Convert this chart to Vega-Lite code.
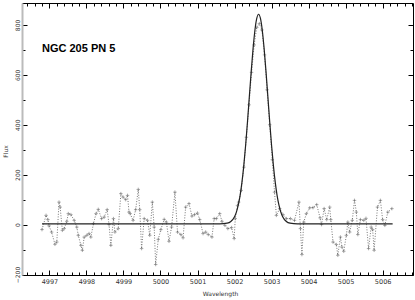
{
  "$schema": "https://vega.github.io/schema/vega-lite/v6.json",
  "width": 391,
  "height": 272,
  "autosize": "none",
  "padding": {"left": 22, "top": 3, "right": 2, "bottom": 25},
  "background": "white",
  "config": {"view": {"stroke": null}},
  "datasets": {
    "obs": [
      {"wl": 4996.80, "flux": -20}, {"wl": 4996.91, "flux": 37}, {"wl": 4996.96, "flux": 20}, {"wl": 4996.99, "flux": -5},
      {"wl": 4997.06, "flux": -30}, {"wl": 4997.15, "flux": -79}, {"wl": 4997.20, "flux": -70}, {"wl": 4997.26, "flux": 90},
      {"wl": 4997.29, "flux": 70}, {"wl": 4997.35, "flux": -23}, {"wl": 4997.40, "flux": -16}, {"wl": 4997.47, "flux": 13},
      {"wl": 4997.51, "flux": 44}, {"wl": 4997.58, "flux": 40}, {"wl": 4997.67, "flux": 17}, {"wl": 4997.74, "flux": -10},
      {"wl": 4997.78, "flux": -43}, {"wl": 4997.85, "flux": -83}, {"wl": 4997.89, "flux": -103}, {"wl": 4997.94, "flux": -50},
      {"wl": 4998.01, "flux": -43}, {"wl": 4998.07, "flux": -36}, {"wl": 4998.12, "flux": -50}, {"wl": 4998.19, "flux": 4},
      {"wl": 4998.26, "flux": 44}, {"wl": 4998.32, "flux": 61}, {"wl": 4998.41, "flux": 24}, {"wl": 4998.48, "flux": 30},
      {"wl": 4998.56, "flux": 60}, {"wl": 4998.61, "flux": 0}, {"wl": 4998.66, "flux": -83}, {"wl": 4998.73, "flux": 24},
      {"wl": 4998.77, "flux": -30}, {"wl": 4998.86, "flux": -16}, {"wl": 4998.93, "flux": 124}, {"wl": 4998.99, "flux": 110},
      {"wl": 4999.06, "flux": 100}, {"wl": 4999.11, "flux": 117}, {"wl": 4999.15, "flux": 50}, {"wl": 4999.18, "flux": 44},
      {"wl": 4999.26, "flux": 17}, {"wl": 4999.33, "flux": 60}, {"wl": 4999.40, "flux": 141}, {"wl": 4999.44, "flux": 60},
      {"wl": 4999.49, "flux": -96}, {"wl": 4999.56, "flux": 24}, {"wl": 4999.65, "flux": 17}, {"wl": 4999.71, "flux": -43},
      {"wl": 4999.78, "flux": 90}, {"wl": 4999.83, "flux": -10}, {"wl": 4999.87, "flux": -160}, {"wl": 4999.94, "flux": -59},
      {"wl": 5000.01, "flux": -20}, {"wl": 5000.10, "flux": 21}, {"wl": 5000.16, "flux": 10}, {"wl": 5000.23, "flux": -67},
      {"wl": 5000.30, "flux": -10}, {"wl": 5000.39, "flux": 130}, {"wl": 5000.46, "flux": -30}, {"wl": 5000.55, "flux": -40},
      {"wl": 5000.61, "flux": -53}, {"wl": 5000.68, "flux": 70}, {"wl": 5000.77, "flux": 84}, {"wl": 5000.85, "flux": 34},
      {"wl": 5000.92, "flux": 40}, {"wl": 5001.00, "flux": 46}, {"wl": 5001.06, "flux": 20}, {"wl": 5001.15, "flux": -36},
      {"wl": 5001.22, "flux": -30}, {"wl": 5001.29, "flux": -40}, {"wl": 5001.39, "flux": -50}, {"wl": 5001.45, "flux": 24},
      {"wl": 5001.51, "flux": 24}, {"wl": 5001.60, "flux": 44}, {"wl": 5001.66, "flux": 13}, {"wl": 5001.74, "flux": -3},
      {"wl": 5001.82, "flux": -16}, {"wl": 5001.92, "flux": -12}, {"wl": 5001.99, "flux": -56}, {"wl": 5002.02, "flux": 24},
      {"wl": 5002.08, "flux": 77}, {"wl": 5002.11, "flux": 90}, {"wl": 5002.18, "flux": 137}, {"wl": 5002.25, "flux": 230},
      {"wl": 5002.32, "flux": 350}, {"wl": 5002.39, "flux": 480}, {"wl": 5002.46, "flux": 610}, {"wl": 5002.53, "flux": 720},
      {"wl": 5002.60, "flux": 790}, {"wl": 5002.67, "flux": 805}, {"wl": 5002.74, "flux": 780}, {"wl": 5002.81, "flux": 680},
      {"wl": 5002.88, "flux": 540}, {"wl": 5002.95, "flux": 400}, {"wl": 5003.02, "flux": 260}, {"wl": 5003.08, "flux": 130},
      {"wl": 5003.13, "flux": 37}, {"wl": 5003.22, "flux": 64}, {"wl": 5003.31, "flux": 40}, {"wl": 5003.40, "flux": 24},
      {"wl": 5003.51, "flux": 24}, {"wl": 5003.62, "flux": 17}, {"wl": 5003.74, "flux": 90}, {"wl": 5003.78, "flux": -16},
      {"wl": 5003.82, "flux": -120}, {"wl": 5003.87, "flux": 10}, {"wl": 5003.94, "flux": 44}, {"wl": 5004.03, "flux": 67},
      {"wl": 5004.12, "flux": 68}, {"wl": 5004.22, "flux": 80}, {"wl": 5004.31, "flux": 27}, {"wl": 5004.35, "flux": 0},
      {"wl": 5004.42, "flux": 64}, {"wl": 5004.49, "flux": 20}, {"wl": 5004.57, "flux": 70}, {"wl": 5004.60, "flux": 20},
      {"wl": 5004.66, "flux": -70}, {"wl": 5004.75, "flux": -80}, {"wl": 5004.79, "flux": -123}, {"wl": 5004.86, "flux": -50},
      {"wl": 5004.90, "flux": -90}, {"wl": 5004.95, "flux": -107}, {"wl": 5005.02, "flux": -43}, {"wl": 5005.06, "flux": 10},
      {"wl": 5005.11, "flux": -30}, {"wl": 5005.18, "flux": 17}, {"wl": 5005.24, "flux": 97}, {"wl": 5005.29, "flux": 50},
      {"wl": 5005.33, "flux": -40}, {"wl": 5005.40, "flux": 20}, {"wl": 5005.49, "flux": 17}, {"wl": 5005.55, "flux": 25},
      {"wl": 5005.62, "flux": -96}, {"wl": 5005.69, "flux": -10}, {"wl": 5005.73, "flux": -20}, {"wl": 5005.77, "flux": -103},
      {"wl": 5005.86, "flux": 70}, {"wl": 5005.94, "flux": 97}, {"wl": 5006.00, "flux": 20}, {"wl": 5006.06, "flux": -3},
      {"wl": 5006.14, "flux": 50}, {"wl": 5006.25, "flux": 64}
    ],
    "fit": [
      {"wl": 4996.80, "flux": 3}, {"wl": 5001.60, "flux": 3}, {"wl": 5001.80, "flux": 5.6}, {"wl": 5001.90, "flux": 12.3},
      {"wl": 5002.00, "flux": 31.6}, {"wl": 5002.05, "flux": 50}, {"wl": 5002.10, "flux": 77.7}, {"wl": 5002.15, "flux": 116},
      {"wl": 5002.20, "flux": 169}, {"wl": 5002.25, "flux": 236.5}, {"wl": 5002.30, "flux": 318}, {"wl": 5002.35, "flux": 412},
      {"wl": 5002.40, "flux": 513}, {"wl": 5002.45, "flux": 613}, {"wl": 5002.50, "flux": 704}, {"wl": 5002.55, "flux": 778},
      {"wl": 5002.60, "flux": 826}, {"wl": 5002.65, "flux": 843}, {"wl": 5002.70, "flux": 826}, {"wl": 5002.75, "flux": 778},
      {"wl": 5002.80, "flux": 704}, {"wl": 5002.85, "flux": 613}, {"wl": 5002.90, "flux": 513}, {"wl": 5002.95, "flux": 412},
      {"wl": 5003.00, "flux": 318}, {"wl": 5003.05, "flux": 236.5}, {"wl": 5003.10, "flux": 169}, {"wl": 5003.15, "flux": 116},
      {"wl": 5003.20, "flux": 77.7}, {"wl": 5003.25, "flux": 50}, {"wl": 5003.30, "flux": 31.6}, {"wl": 5003.40, "flux": 12.3},
      {"wl": 5003.50, "flux": 5.6}, {"wl": 5003.70, "flux": 3}, {"wl": 5006.27, "flux": 3}
    ],
    "label": [{"text": "NGC 205 PN 5", "wl": 4996.8, "flux": 705}]
  },
  "layer": [
    {
      "data": {"name": "obs"},
      "mark": {"type": "line", "color": "#777", "strokeWidth": 1, "strokeDash": [1, 1.6]},
      "encoding": {
        "x": {
          "field": "wl", "type": "quantitative",
          "scale": {"domain": [4996.26, 5006.82], "nice": false, "zero": false},
          "axis": {
            "orient": "bottom", "grid": false,
            "values": [4996.4, 4996.6, 4996.8, 4997, 4997.2, 4997.4, 4997.6, 4997.8, 4998, 4998.2, 4998.4, 4998.6, 4998.8, 4999, 4999.2, 4999.4, 4999.6, 4999.8, 5000, 5000.2, 5000.4, 5000.6, 5000.8, 5001, 5001.2, 5001.4, 5001.6, 5001.8, 5002, 5002.2, 5002.4, 5002.6, 5002.8, 5003, 5003.2, 5003.4, 5003.6, 5003.8, 5004, 5004.2, 5004.4, 5004.6, 5004.8, 5005, 5005.2, 5005.4, 5005.6, 5005.8, 5006, 5006.2, 5006.4, 5006.6, 5006.8],
            "labelExpr": "abs(datum.value - round(datum.value)) < 0.01 ? format(datum.value, 'd') : ''",
            "labelFont": "DejaVu Sans", "labelFontSize": 6.5, "labelColor": "#333", "labelPadding": 8,
            "labelBaseline": "top",
            "labelFlush": false, "labelOverlap": false,
            "tickSize": {"condition": {"test": "abs(datum.value - round(datum.value)) < 0.01", "value": -5}, "value": -3},
            "tickColor": "#000", "tickWidth": 1,
            "domainColor": "#000", "domainWidth": 1,
            "title": "Wavelength", "titleFont": "DejaVu Sans", "titleFontSize": 6, "titleFontWeight": "normal",
            "titleColor": "#333", "titleX": 198, "titleY": 18, "titleBaseline": "middle", "titleAlign": "center"
          }
        },
        "y": {
          "field": "flux", "type": "quantitative",
          "scale": {"domain": [-202, 888], "nice": false, "zero": false},
          "axis": {
            "orient": "left", "grid": false,
            "values": [-200, -100, 0, 100, 200, 300, 400, 500, 600, 700, 800],
            "labelExpr": "datum.value % 200 == 0 ? datum.label : ''",
            "labelAngle": -90, "labelAlign": "center", "labelBaseline": "bottom",
            "labelFont": "DejaVu Sans", "labelFontSize": 6, "labelColor": "#333", "labelPadding": 7,
            "labelFlush": false, "labelOverlap": false,
            "tickSize": {"condition": {"test": "datum.value % 200 == 0", "value": -5}, "value": -3},
            "tickColor": "#000", "tickWidth": 1,
            "domainColor": "#bbb", "domainWidth": 2,
            "title": "Flux", "titleFont": "DejaVu Sans", "titleFontSize": 6, "titleFontWeight": "normal",
            "titleColor": "#333", "titleX": -17, "titleY": 148, "titleAngle": -90, "titleAlign": "center", "titleBaseline": "middle"
          }
        }
      }
    },
    {
      "data": {"name": "obs"},
      "mark": {"type": "point", "shape": "M-1,0L1,0M0,-1L0,1", "filled": false, "color": "#666", "size": 12, "strokeWidth": 0.8},
      "encoding": {
        "x": {"field": "wl", "type": "quantitative", "axis": null},
        "y": {"field": "flux", "type": "quantitative", "axis": null}
      }
    },
    {
      "data": {"name": "fit"},
      "mark": {"type": "line", "color": "#222", "strokeWidth": 1.2, "interpolate": "monotone"},
      "encoding": {
        "x": {
          "field": "wl", "type": "quantitative",
          "axis": {
            "orient": "top", "grid": false, "labels": false, "title": null,
            "values": [4996.4, 4996.6, 4996.8, 4997, 4997.2, 4997.4, 4997.6, 4997.8, 4998, 4998.2, 4998.4, 4998.6, 4998.8, 4999, 4999.2, 4999.4, 4999.6, 4999.8, 5000, 5000.2, 5000.4, 5000.6, 5000.8, 5001, 5001.2, 5001.4, 5001.6, 5001.8, 5002, 5002.2, 5002.4, 5002.6, 5002.8, 5003, 5003.2, 5003.4, 5003.6, 5003.8, 5004, 5004.2, 5004.4, 5004.6, 5004.8, 5005, 5005.2, 5005.4, 5005.6, 5005.8, 5006, 5006.2, 5006.4, 5006.6, 5006.8],
            "tickSize": {"condition": {"test": "abs(datum.value - round(datum.value)) < 0.01", "value": -5}, "value": -3},
            "tickColor": "#000", "domainColor": "#000", "domainWidth": 1
          }
        },
        "y": {
          "field": "flux", "type": "quantitative",
          "axis": {
            "orient": "right", "grid": false, "labels": false, "title": null,
            "values": [-200, -100, 0, 100, 200, 300, 400, 500, 600, 700, 800],
            "tickSize": {"condition": {"test": "datum.value % 200 == 0", "value": -5}, "value": -3},
            "tickColor": "#000", "domainColor": "#000", "domainWidth": 1
          }
        }
      }
    },
    {
      "data": {"name": "label"},
      "mark": {"type": "text", "font": "Liberation Sans", "fontSize": 11, "fontWeight": "bold", "align": "left", "baseline": "middle", "color": "#000"},
      "encoding": {
        "x": {"field": "wl", "type": "quantitative", "axis": null},
        "y": {"field": "flux", "type": "quantitative", "axis": null},
        "text": {"field": "text"}
      }
    }
  ],
  "resolve": {"axis": {"x": "independent", "y": "independent"}}
}
